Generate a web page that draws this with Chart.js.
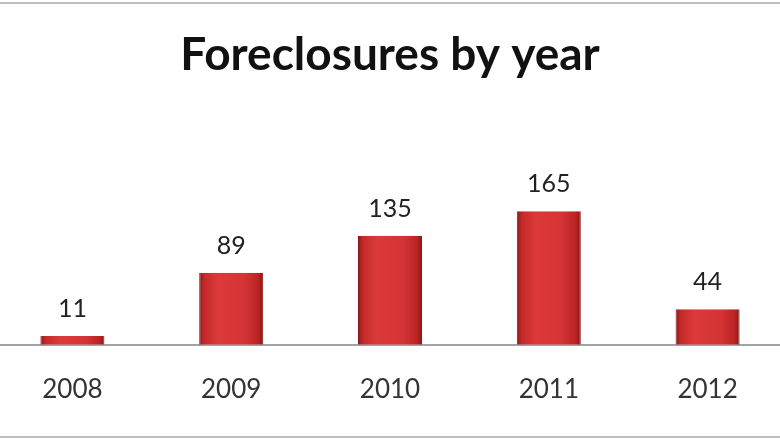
<!DOCTYPE html>
<html>
<head>
<meta charset="utf-8">
<script src="https://cdn.jsdelivr.net/npm/chart.js@4"></script>
<style>
  html, body { margin: 0; padding: 0; background: #fff; overflow: hidden; }
  #wrap { position: absolute; left: -7px; top: 0; width: 794px; height: 442px; }
</style>
</head>
<body>
<div id="wrap"><canvas id="foreclosuresChart"></canvas></div>
<script>
// Chart data
const years = ['2008', '2009', '2010', '2011', '2012'];
const foreclosures = [11, 89, 135, 165, 44];
const chartTitle = 'Foreclosures by year';

// Red bar with darker edges, like the Excel bevel
function barGradient(context) {
  const chart = context.chart;
  const xScale = chart.scales.x;
  if (!xScale || !chart.chartArea) return '#d23434';
  const center = xScale.getPixelForTick(context.dataIndex);
  const half = 32;
  const g = chart.ctx.createLinearGradient(center - half, 0, center + half, 0);
  g.addColorStop(0, '#8f1818');
  g.addColorStop(0.08, '#c42a2a');
  g.addColorStop(0.3, '#dc3a3a');
  g.addColorStop(0.7, '#d43434');
  g.addColorStop(0.92, '#bb2424');
  g.addColorStop(1, '#8a1616');
  return g;
}

// Value labels above each bar
const valueLabels = {
  id: 'valueLabels',
  afterDatasetsDraw(chart) {
    const ctx = chart.ctx;
    const meta = chart.getDatasetMeta(0);
    ctx.save();
    ctx.font = '25px Lato, "Liberation Sans", sans-serif';
    ctx.fillStyle = '#222';
    ctx.textAlign = 'center';
    ctx.textBaseline = 'middle';
    meta.data.forEach((bar, i) => {
      ctx.fillText(foreclosures[i], bar.x, bar.y - 27);
    });
    ctx.restore();
  }
};

// Grey frame lines at top and bottom
const frameLines = {
  id: 'frameLines',
  afterDraw(chart) {
    const ctx = chart.ctx;
    ctx.save();
    ctx.fillStyle = '#bdbdbd';
    ctx.fillRect(0, 2, chart.width, 2);
    ctx.fillRect(0, 436, chart.width, 2);
    ctx.restore();
  }
};

new Chart(document.getElementById('foreclosuresChart'), {
  type: 'bar',
  data: {
    labels: years,
    datasets: [{
      data: foreclosures,
      backgroundColor: barGradient,
      borderColor: '#8a1818',
      borderWidth: { top: 0, left: 1, right: 1, bottom: 0 },
      categoryPercentage: 1,
      barPercentage: 0.403
    }]
  },
  options: {
    responsive: true,
    maintainAspectRatio: false,
    animation: false,
    layout: { padding: { top: 0, bottom: 16, left: 0, right: 0 } },
    plugins: {
      legend: { display: false },
      tooltip: { enabled: false },
      title: {
        display: true,
        text: chartTitle,
        color: '#111',
        font: { family: 'Lato, "Liberation Sans", sans-serif', size: 46, weight: 'bold' },
        padding: { top: 28, bottom: 19 }
      }
    },
    scales: {
      x: {
        grid: { display: false },
        border: { display: true, color: '#a3a3a3', width: 2 },
        ticks: {
          color: '#333',
          padding: 21,
          font: { family: 'Lato, "Liberation Sans", sans-serif', size: 26 }
        }
      },
      y: {
        display: false,
        min: 0,
        max: 300
      }
    }
  },
  plugins: [valueLabels, frameLines]
});
</script>
</body>
</html>
